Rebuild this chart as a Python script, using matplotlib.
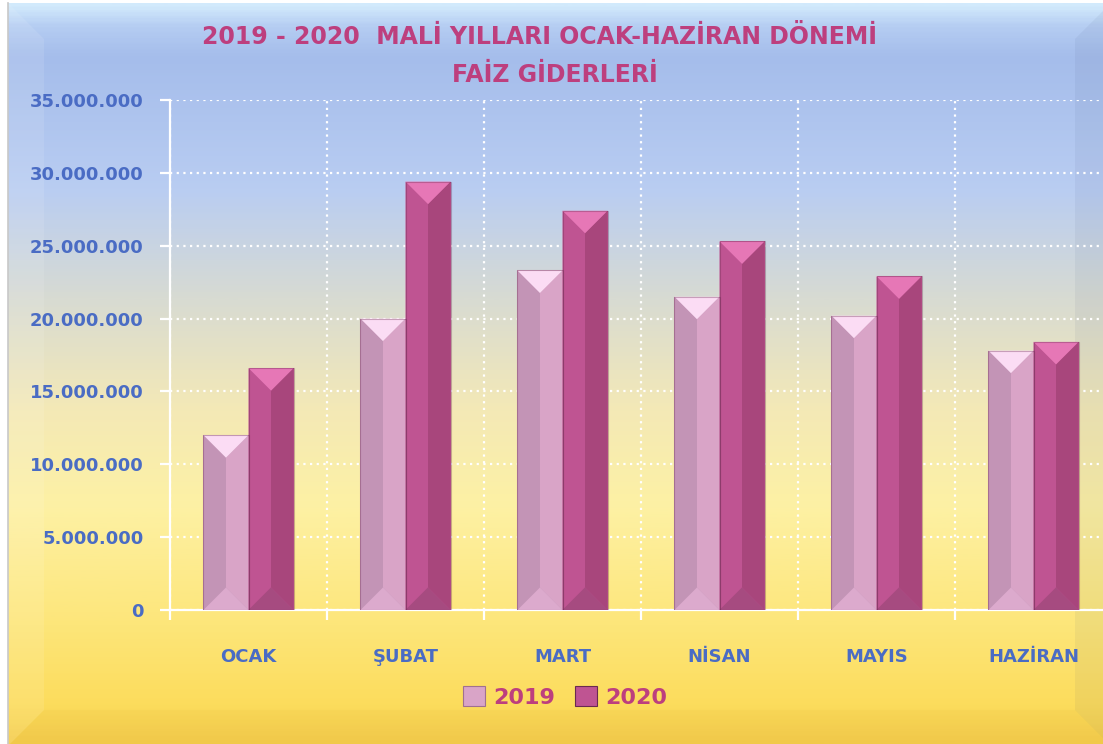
import numpy as np
import matplotlib.pyplot as plt
from matplotlib.colors import LinearSegmentedColormap
from matplotlib.patches import Polygon, Rectangle
from matplotlib.ticker import FuncFormatter, MultipleLocator

# --- data ---
months = ["OCAK", "ŞUBAT", "MART", "NİSAN", "MAYIS", "HAZİRAN"]
faiz_2019 = [12.0e6, 20.0e6, 23.3e6, 21.5e6, 20.2e6, 17.8e6]
faiz_2020 = [16.6e6, 29.4e6, 27.4e6, 25.3e6, 22.9e6, 18.4e6]
series_names = ["2019", "2020"]
title_lines = ["2019 - 2020  MALİ YILLARI OCAK-HAZİRAN DÖNEMİ", "FAİZ GİDERLERİ"]

W, H = 1103, 744
fig = plt.figure(figsize=(W / 100, H / 100), dpi=100)
fig.patch.set_facecolor("white")

# --- background: blue -> yellow gradient with a bevelled frame ---
bg = fig.add_axes([0, 0, 1, 1])
bg.set_xlim(0, W)
bg.set_ylim(H, 0)
bg.axis("off")
stops = [(0.0, "#d2eafc"), (0.03, "#b4ccf2"), (0.07, "#a5bdeb"), (0.25, "#b9cdf2"),
         (0.40, "#d8dbd2"), (0.55, "#f4e9b6"), (0.68, "#fdf1a4"), (0.84, "#fde67a"),
         (0.95, "#fcdc5c"), (1.0, "#f4cd4c")]
grad_cmap = LinearSegmentedColormap.from_list("bg", stops)
grad = np.linspace(0, 1, 400).reshape(-1, 1)
bg.imshow(grad, cmap=grad_cmap, aspect="auto", extent=[8, W + 20, H, 3], zorder=0)

bev = 36
x0f, x1f, y0f, y1f = 8, W + 8, 3, H + 2
bg.add_patch(Polygon([(x0f, y0f), (bev + x0f, y0f + bev), (bev + x0f, y1f - bev), (x0f, y1f)],
                     closed=True, fc="white", alpha=0.10, lw=0, zorder=1))
bg.add_patch(Polygon([(x1f, y0f), (x1f - bev, y0f + bev), (x1f - bev, y1f - bev), (x1f, y1f)],
                     closed=True, fc="#30406a", alpha=0.06, lw=0, zorder=1))
bg.add_patch(Polygon([(x0f, y1f), (x0f + bev, y1f - bev), (x1f - bev, y1f - bev), (x1f, y1f)],
                     closed=True, fc="#b08020", alpha=0.04, lw=0, zorder=1))
bg.plot([x0f, x0f], [y0f, H], color="#c8c8c8", lw=1.2, zorder=2)

# --- chart axes ---
ax = fig.add_axes([170 / W, (H - 610) / H, 942 / W, 510 / H])
ax.set_facecolor("none")
x = np.arange(len(months))
bw = 0.287
b19 = ax.bar(x - bw / 2, faiz_2019, width=bw, color="#c896b8", zorder=3, lw=0)
b20 = ax.bar(x + bw / 2, faiz_2020, width=bw, color="#bd5290", zorder=3, lw=0)
ax.set_xlim(-0.5, len(months) - 0.5)
ax.set_ylim(0, 35e6)

# bevel facets on each bar (45 degree pyramid-frame look)
fig.canvas.draw()
bbox = ax.get_window_extent()
px_per_y = bbox.height / 35e6
px_per_x = bbox.width / len(months)

facets = {
    "2019": dict(left="#c394b6", right="#d9a4c7", top="#fbdcf4", bottom="#dcaacd"),
    "2020": dict(left="#bf5492", right="#a8467c", top="#e677b6", bottom="#a64b80"),
}
for bars, key in ((b19, "2019"), (b20, "2020")):
    c = facets[key]
    for r in bars:
        xa, xb = r.get_x(), r.get_x() + r.get_width()
        xc = (xa + xb) / 2
        top = r.get_height()
        d = (r.get_width() / 2) * px_per_x / px_per_y
        ax.add_patch(Polygon([(xa, 0), (xa, top), (xc, top - d), (xc, d)], fc=c["left"], lw=0, zorder=4))
        ax.add_patch(Polygon([(xb, 0), (xb, top), (xc, top - d), (xc, d)], fc=c["right"], lw=0, zorder=4))
        ax.add_patch(Polygon([(xa, top), (xb, top), (xc, top - d)], fc=c["top"], lw=0, zorder=4))
        ax.add_patch(Polygon([(xa, 0), (xb, 0), (xc, d)], fc=c["bottom"], lw=0, zorder=4))
        ax.add_patch(Rectangle((xa, 0), r.get_width(), top, fc="none", ec="#6a2a50",
                               lw=0.8, alpha=0.35, zorder=5))

# axes styling
for s in ("top", "right"):
    ax.spines[s].set_visible(False)
for s in ("left", "bottom"):
    ax.spines[s].set_color("white")
    ax.spines[s].set_linewidth(1.6)
ax.yaxis.set_major_locator(MultipleLocator(5e6))
ax.yaxis.set_major_formatter(FuncFormatter(lambda v, p: f"{int(v):,}".replace(",", ".")))
ax.set_xticks(x)
ax.set_xticklabels(months)
ax.set_xticks(np.arange(len(months) + 1) - 0.5, minor=True)
ax.tick_params(axis="x", which="major", length=0, pad=27)
ax.tick_params(axis="x", which="minor", length=7, color="white", width=1.6, direction="out")
ax.tick_params(axis="y", length=7, color="white", width=1.6, direction="out", pad=12)
lab_color = "#4a6cc4"
for t in ax.get_yticklabels() + ax.get_xticklabels():
    t.set_color(lab_color)
    t.set_fontweight("bold")
    t.set_fontsize(13)
ax.grid(axis="y", which="major", color="white", ls=(0, (1, 2)), lw=1.6, zorder=1)
ax.grid(axis="x", which="minor", color="white", ls=(0, (1, 2)), lw=1.6, zorder=1)
ax.set_axisbelow(True)

# title
title_color = "#bd3f7e"
fig.text(540 / W, 1 - 37 / H, title_lines[0], ha="center", va="center", color=title_color,
         fontsize=17, fontweight="bold")
fig.text(555 / W, 1 - 75 / H, title_lines[1], ha="center", va="center", color=title_color,
         fontsize=17, fontweight="bold")

# legend
handles = [Rectangle((0, 0), 1, 1, fc=facets["2019"]["right"], ec="#a07090", lw=0.8),
           Rectangle((0, 0), 1, 1, fc=facets["2020"]["left"], ec="#6a2a50", lw=0.8)]
leg = fig.legend(handles, series_names, loc="center", bbox_to_anchor=(565 / W, 1 - 697 / H),
                 ncol=2, frameon=False, handlelength=1.0, handleheight=1.0, handletextpad=0.35,
                 columnspacing=0.9, prop=dict(size=16, weight="bold"))
for t in leg.get_texts():
    t.set_color(title_color)

fig.savefig("out.png", dpi=100)
